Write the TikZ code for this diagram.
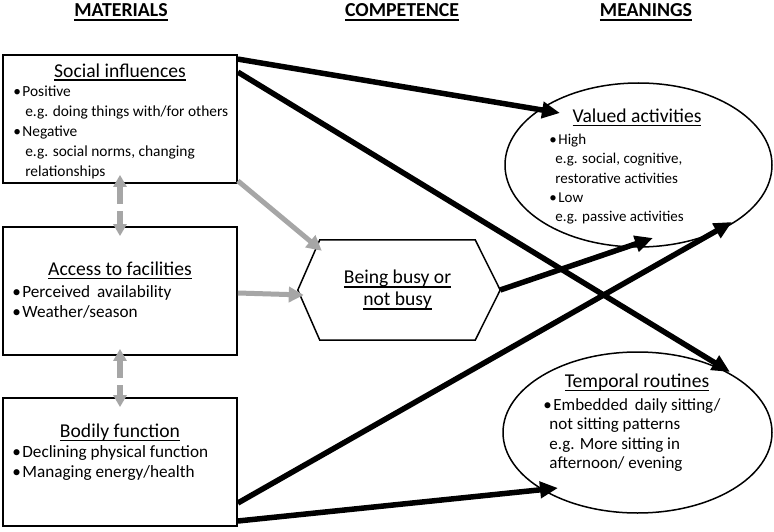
\documentclass[tikz,border=0pt]{standalone}
\usepackage{fontspec}
\setmainfont{Carlito}
\usetikzlibrary{arrows.meta,calc,shapes.geometric}
\definecolor{arrowgray}{HTML}{A6A6A6}
\newcommand{\ultext}[2][1.4pt]{\setbox0\hbox{#2}\rlap{\rule[-3.8pt]{\wd0}{#1}}\box0}
\newcommand{\itemdot}{\textbullet\hspace{1.5pt}}
\newcommand{\egind}[1]{\hspace*{#1pt}}
\tikzset{
  matbox/.style={draw, line width=1.8pt, minimum width=234pt, minimum height=128pt, inner sep=0pt},
  meanell/.style={draw, ellipse, line width=1.5pt, inner sep=0pt},
  hdrtext/.style={font=\fontsize{19.8}{22}\selectfont\bfseries, anchor=base, inner sep=0pt},
  ttltext/.style={font=\fontsize{19.6}{22}\selectfont, anchor=base, inner sep=0pt},
  bodytext/.style={font=\fontsize{15.4}{20}\selectfont, align=left, anchor=base west, inner sep=0pt},
  bigbody/.style={bodytext, font=\fontsize{17.2}{20}\selectfont},
  blackarrow/.style={line width=5.5pt, -{Triangle[length=18pt,width=16pt]}},
  grayarrow/.style={arrowgray, line width=5pt, -{Triangle[length=15pt,width=15pt]}},
  graypair/.style={arrowgray, line width=6pt, {Triangle[length=12pt,width=13pt]}-{Triangle[length=12pt,width=13pt]}, dash pattern=on 18pt off 7pt},
}
\begin{document}
\begin{tikzpicture}[x=1pt,y=-1pt]
\useasboundingbox (0,0) rectangle (774,532);
\fill[white] (0,0) rectangle (774,532);

\node[hdrtext] (hdrmat) at (121,17) {\ultext[1.8pt]{MATERIALS}};
\node[hdrtext] (hdrcomp) at (402,17) {\ultext[1.8pt]{COMPETENCE}};
\node[hdrtext] (hdrmean) at (646,17) {\ultext[1.8pt]{MEANINGS}};

\node[matbox] (social) at (120,119) {};
\node[matbox] (access) at (120,291) {};
\node[matbox] (bodily) at (120,462) {};

\node[ttltext] (socialttl) at ($(social.north)+(0,23)$) {\ultext{Social influences}};
\node[bodytext] (socialtxt) at ($(social.north west)+(11,122)$) {\itemdot Positive\\
  \egind{12}e.g. doing things with/for others\\
  \itemdot Negative\\
  \egind{12}e.g. social norms, changing\\
  \egind{12}relationships};

\node[ttltext] (accessttl) at ($(access.north)+(0,49)$) {\ultext{Access to facilities}};
\node[bigbody] (accesstxt) at ($(access.north west)+(10,91.5)$) {\itemdot Perceived\hspace{3pt} availability\\
  \itemdot Weather/season};

\node[ttltext] (bodilyttl) at ($(bodily.north)+(0,40)$) {\ultext{Bodily function}};
\node[bigbody] (bodilytxt) at ($(bodily.north west)+(10,80.5)$) {\itemdot Declining physical function\\
  \itemdot Managing energy/health};

\node[inner sep=0pt, minimum width=155pt, minimum height=100pt, align=center,
  font=\fontsize{19.6}{22}\selectfont] (busy) at (397.5,290) {\ultext{Being busy or}\\ \ultext{not busy}};
\coordinate (busyw) at ($(busy.west)+(-22,0)$);
\coordinate (busye) at ($(busy.east)+(25,0)$);
\draw[line width=1.5pt, line join=miter] (busy.north west) -- (busy.north east) -- (busye)
  -- (busy.south east) -- (busy.south west) -- (busyw) -- cycle;

\node[meanell, minimum width=267pt, minimum height=164pt] (valued) at (638.5,165) {};
\node[meanell, minimum width=269pt, minimum height=161pt] (temporal) at (637.5,432.5) {};

\node[ttltext] (valuedttl) at ($(valued.north)+(-1.5,40)$) {\ultext{Valued activities}};
\node[bodytext, font=\fontsize{15}{19.25}\selectfont] (valuedtxt) at ($(valued.west)+(45,56.5)$) {\itemdot High\\
  \egind{6}e.g. social, cognitive,\\
  \egind{6}restorative activities\\
  \itemdot Low\\
  \egind{6}e.g. passive activities};

\node[ttltext] (temporalttl) at ($(temporal.north)+(-0.5,36)$) {\ultext{Temporal routines}};
\node[bodytext, font=\fontsize{17}{19.4}\selectfont] (temporaltxt) at ($(temporal.west)+(41,36)$) {\itemdot Embedded\hspace{3pt} daily sitting/\\
  \egind{6}not sitting patterns\\
  \egind{6}e.g. More sitting in\\
  \egind{6}afternoon/ evening};

\draw[blackarrow] ($(social.north east)+(0,5)$) -- ($(valued.center)+(-78.5,-52)$);
\draw[blackarrow] ($(social.north east)+(0,18)$) -- ($(temporal.center)+(92.5,-60.5)$);
\draw[blackarrow] (busye) -- ($(valued.center)+(14.5,73)$);
\draw[blackarrow] ($(bodily.east)+(0,41)$) -- ($(valued.center)+(93.5,57)$);
\draw[blackarrow] ($(bodily.east)+(0,59)$) -- ($(temporal.center)+(-79.5,55.5)$);

\draw[grayarrow] ($(social.south east)+(0,-3)$) -- ($(busy.north west)+(2,11)$);
\draw[grayarrow] ($(access.east)+(0,2)$) -- ($(busy.west)+(-16,5)$);

\draw[graypair] ($(social.south)+(0,-9)$) -- ($(access.north)+(0,10)$);
\draw[graypair] ($(access.south)+(0,-7)$) -- ($(bodily.north)+(0,10)$);
\end{tikzpicture}
\end{document}
